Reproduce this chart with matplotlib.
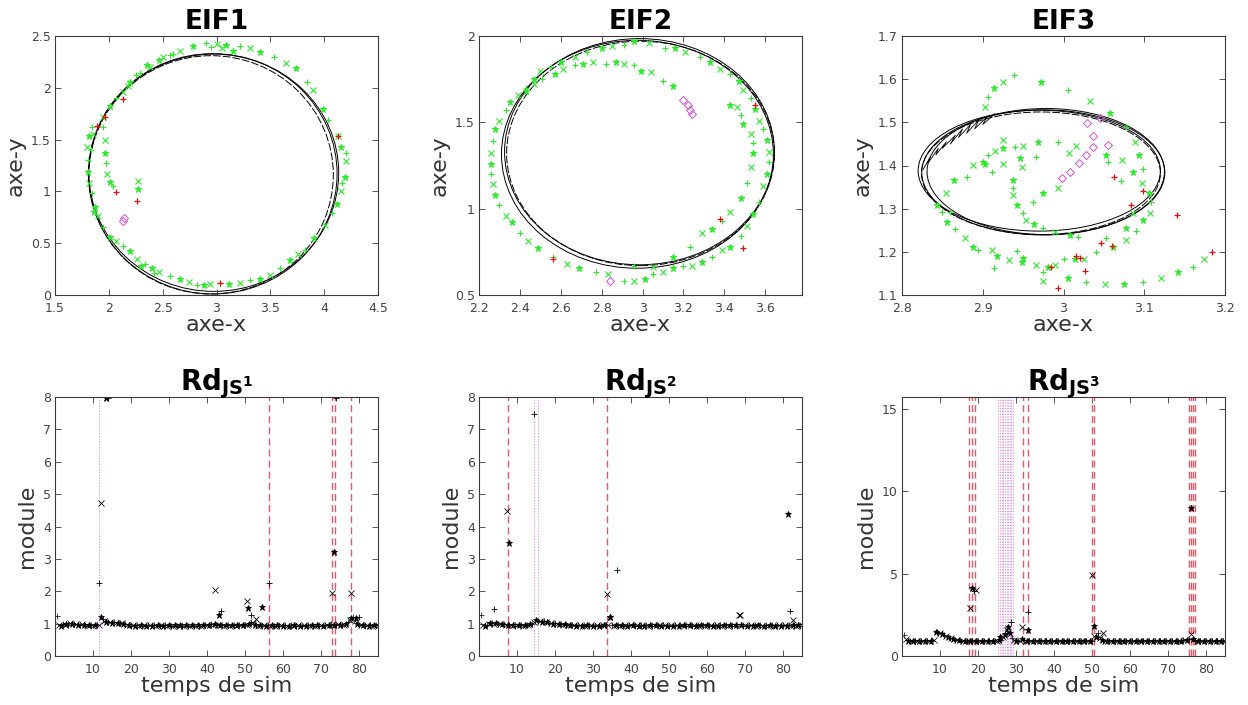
import numpy as np
import matplotlib
matplotlib.use("Agg")
import matplotlib.pyplot as plt
from matplotlib.patches import Ellipse

plt.rcParams['font.family'] = ['DejaVu Sans']

# ------------------------------------------------------------------ data
# EIF1 : reference loops (centre x, centre y, width, height)
eif1_loop_cx = [2.965, 2.950, 2.975]
eif1_loop_cy = [1.170, 1.160, 1.180]
eif1_loop_w = [2.310, 2.270, 2.320]
eif1_loop_h = [2.320, 2.300, 2.290]
eif1_green_x = [2.90, 3.00, 3.09, 3.22, 3.31, 3.40, 3.53, 3.65, 3.74, 3.84, 3.90, 3.99, 4.04, 4.13,
                4.16, 4.20, 4.20, 4.19, 4.17, 4.16, 4.12, 4.07, 4.01, 3.91, 3.82, 3.76, 3.68, 3.59,
                3.50, 3.40, 3.31, 3.22, 3.12, 3.03, 2.94, 2.88, 2.82, 2.74, 2.66, 2.57, 2.47, 2.40,
                2.34, 2.26, 2.20, 2.13, 2.07, 2.01, 1.95, 1.90, 1.87, 1.84, 1.82, 1.81, 1.81, 1.80,
                1.82, 1.84, 1.95, 2.01, 2.07, 2.13, 2.20, 2.29, 2.38, 2.47, 2.57, 2.66, 2.78,
                1.95, 1.96, 1.96, 1.97, 1.98, 2.01, 2.04, 2.27, 2.27,
                2.95, 3.05, 3.15, 2.60, 2.50, 2.35, 2.25, 2.18, 1.86, 1.83, 1.85, 2.30, 2.42]
eif1_green_y = [2.43, 2.42, 2.41, 2.40, 2.38, 2.35, 2.30, 2.24, 2.19, 2.06, 1.98, 1.80, 1.69, 1.53,
                1.43, 1.37, 1.29, 1.14, 1.08, 1.00, 0.88, 0.79, 0.68, 0.55, 0.43, 0.40, 0.34, 0.26,
                0.19, 0.15, 0.14, 0.12, 0.11, 0.12, 0.11, 0.10, 0.10, 0.13, 0.15, 0.18, 0.22, 0.26,
                0.30, 0.35, 0.42, 0.47, 0.52, 0.56, 0.66, 0.76, 0.85, 0.98, 1.08, 1.19, 1.30, 1.43,
                1.53, 1.62, 1.72, 1.82, 1.90, 1.96, 2.06, 2.14, 2.20, 2.27, 2.32, 2.36, 2.40,
                1.62, 1.50, 1.37, 1.27, 1.17, 1.09, 1.05, 1.10, 1.02,
                2.39, 2.38, 2.36, 2.33, 2.30, 2.22, 2.12, 2.02, 0.80, 1.40, 1.55, 0.28, 0.21]
eif1_red_x = [2.13, 1.96, 1.89, 4.13, 3.03, 2.26, 2.07]
eif1_red_y = [1.89, 1.72, 1.63, 1.53, 0.12, 0.91, 0.99]
eif1_mag_x = [2.13, 2.14]
eif1_mag_y = [0.71, 0.74]

# EIF2
eif2_loop_cx = [2.975, 2.990, 2.985]
eif2_loop_cy = [1.315, 1.320, 1.330]
eif2_loop_w = [1.330, 1.310, 1.320]
eif2_loop_h = [1.320, 1.300, 1.310]
eif2_green_x = [2.91, 2.96, 3.01, 3.05, 3.10, 3.15, 3.20, 3.24, 3.29, 3.34, 3.39, 3.43, 3.48, 3.51,
                3.54, 3.57, 3.59, 3.61, 3.62, 3.62, 3.61, 3.59, 3.57, 3.55, 3.53, 3.49, 3.47, 3.43,
                3.38, 3.33, 3.28, 3.21, 3.16, 3.11, 3.03, 2.96, 2.91, 2.85, 2.80, 2.73, 2.67, 2.60,
                2.55, 2.50, 2.47, 2.43, 2.39, 2.35, 2.33, 2.30, 2.28, 2.27, 2.26, 2.26, 2.26, 2.27,
                2.28, 2.30, 2.33, 2.36, 2.40, 2.44, 2.49, 2.56, 2.63, 2.69, 2.77, 2.83,
                3.15, 3.10, 3.04, 2.99, 2.96, 2.91, 2.87, 2.82, 2.76, 2.71, 2.67, 2.61, 2.57, 2.51,
                2.47, 2.43,
                2.96, 3.05, 3.15, 3.23, 3.29, 3.34, 3.39, 3.43, 3.48, 3.51, 3.53, 3.54, 3.54, 3.53,
                3.49, 3.48, 3.46, 3.43]
eif2_green_y = [0.58, 0.58, 0.59, 0.62, 0.635, 0.655, 0.67, 0.67, 0.69, 0.72, 0.76, 0.78, 0.84, 0.90,
                0.97, 1.04, 1.13, 1.20, 1.27, 1.33, 1.40, 1.46, 1.51, 1.58, 1.64, 1.69, 1.74, 1.78,
                1.81, 1.85, 1.88, 1.91, 1.93, 1.93, 1.96, 1.97, 1.95, 1.94, 1.93, 1.91, 1.88, 1.85,
                1.82, 1.80, 1.75, 1.70, 1.66, 1.62, 1.57, 1.51, 1.46, 1.39, 1.32, 1.26, 1.20, 1.14,
                1.08, 1.02, 0.96, 0.92, 0.86, 0.81, 0.77, 0.72, 0.68, 0.655, 0.635, 0.62,
                1.71, 1.74, 1.79, 1.80, 1.83, 1.84, 1.85, 1.84, 1.85, 1.84, 1.83, 1.81, 1.78, 1.75,
                1.72, 1.68,
                0.67, 0.66, 0.72, 0.78, 0.86, 0.88, 0.93, 0.98, 1.06, 1.15, 1.24, 1.32, 1.38, 1.43,
                1.49, 1.54, 1.59, 1.60]
eif2_red_x = [2.56, 3.49, 3.55, 3.38]
eif2_red_y = [0.71, 0.77, 1.60, 0.94]
eif2_mag_x = [3.20, 3.22, 3.23, 3.24, 2.84]
eif2_mag_y = [1.63, 1.60, 1.57, 1.55, 0.58]

# EIF3
eif3_loop_cx = [2.975, 2.972, 2.978, 2.970]
eif3_loop_cy = [1.384, 1.382, 1.386, 1.388]
eif3_loop_w = [0.301, 0.296, 0.294, 0.300]
eif3_loop_h = [0.290, 0.284, 0.292, 0.280]
eif3_scrib_x = [2.826, 2.835, 2.832, 2.845, 2.842, 2.855, 2.850, 2.866, 2.860, 2.875, 2.870, 2.885,
                2.880, 2.895, 2.890, 2.905, 2.900, 2.915]
eif3_scrib_y = [1.390, 1.420, 1.405, 1.440, 1.425, 1.455, 1.440, 1.470, 1.450, 1.485, 1.465, 1.495,
                1.475, 1.505, 1.485, 1.512, 1.495, 1.520]
eif3_green_x = [2.939, 2.925, 2.914, 2.907, 2.903, 2.972, 3.005, 3.033, 3.058, 3.077, 3.088, 3.094,
                3.098, 3.097, 3.106, 3.108, 3.107, 3.098, 3.090, 3.077, 3.061, 3.040, 3.026, 3.014,
                3.000, 2.989, 2.981, 2.975, 2.975, 3.005, 3.028, 3.051, 3.075, 3.099, 3.121, 3.142,
                3.160, 3.174, 2.856, 2.866, 2.878, 2.888, 2.894, 2.911, 2.918, 2.914, 2.933, 2.950,
                2.942, 2.966, 2.949, 2.859, 2.854, 2.865, 2.880, 2.888, 2.900, 2.906, 2.915, 2.925,
                2.940, 2.950, 2.968, 2.993, 3.016, 2.903, 2.911, 2.925, 2.946, 2.966, 2.948, 2.937,
                2.937, 2.937, 2.942, 2.950, 2.954, 2.964, 2.975, 2.990, 3.008, 3.018, 2.993, 2.975,
                2.962, 3.007, 3.053, 3.055, 3.073, 3.086, 3.071, 3.086, 3.077, 3.053, 2.925, 2.843,
                2.849]
eif3_green_y = [1.610, 1.594, 1.579, 1.558, 1.535, 1.594, 1.575, 1.550, 1.521, 1.490, 1.455, 1.424,
                1.393, 1.359, 1.336, 1.316, 1.291, 1.274, 1.249, 1.227, 1.212, 1.199, 1.183, 1.183,
                1.183, 1.170, 1.166, 1.154, 1.133, 1.139, 1.131, 1.126, 1.126, 1.130, 1.139, 1.153,
                1.166, 1.183, 1.270, 1.254, 1.231, 1.212, 1.204, 1.204, 1.191, 1.163, 1.181, 1.185,
                1.203, 1.170, 1.177, 1.293, 1.336, 1.366, 1.374, 1.401, 1.409, 1.424, 1.434, 1.440,
                1.444, 1.445, 1.454, 1.454, 1.445, 1.404, 1.386, 1.403, 1.417, 1.420, 1.397, 1.366,
                1.347, 1.332, 1.309, 1.291, 1.274, 1.265, 1.255, 1.246, 1.239, 1.235, 1.347, 1.336,
                1.316, 1.428, 1.424, 1.409, 1.413, 1.386, 1.363, 1.289, 1.255, 1.231, 1.459, 1.308,
                1.293]
eif3_red_x = [3.063, 3.099, 3.084, 3.141, 3.184, 3.046, 3.060, 3.020, 3.016, 2.984, 3.027, 2.993]
eif3_red_y = [1.374, 1.342, 1.308, 1.286, 1.200, 1.221, 1.213, 1.185, 1.190, 1.166, 1.156, 1.116]
eif3_mag_x = [2.998, 3.008, 3.019, 3.028, 3.037, 3.036, 3.029, 3.045, 3.055]
eif3_mag_y = [1.370, 1.386, 1.405, 1.424, 1.444, 1.468, 1.498, 1.509, 1.447]

# Rd_JS : baseline module every 0.5 time unit (t = 0.5 ... 85)
time = np.arange(1, 171) * 0.5
rd1_base = [1.25, 0.97, 0.93, 0.98, 0.96, 1.00, 0.97, 1.01, 0.98, 1.00,
            0.99, 0.97, 0.95, 0.98, 0.96, 0.94, 0.97, 0.95, 0.96, 0.94,
            0.97, 0.95, 0.97, 1.21, 1.15, 1.08, 1.05, 1.04, 1.06, 1.03,
            1.04, 1.02, 1.03, 1.01, 1.02, 1.00, 0.98, 0.97, 0.95, 0.94,
            0.96, 0.93, 0.95, 0.94, 0.96, 0.93, 0.95, 0.94, 0.96, 0.95,
            0.93, 0.95, 0.94, 0.96, 0.94, 0.95, 0.93, 0.95, 0.94, 0.96,
            0.94, 0.93, 0.95, 0.94, 0.93, 0.95, 0.94, 0.93, 0.95, 0.94,
            0.93, 0.95, 0.94, 0.93, 0.95, 0.94, 0.93, 0.96, 0.95, 0.97,
            0.96, 0.98, 0.97, 1.00, 0.97, 0.96, 0.95, 0.96, 0.94, 0.95,
            0.96, 0.94, 0.95, 0.96, 0.94, 0.95, 0.96, 0.97, 0.95, 0.96,
            0.97, 0.98, 1.05, 1.02, 0.95, 0.96, 0.94, 0.95, 0.93, 0.95,
            0.94, 0.96, 0.93, 0.95, 0.94, 0.93, 0.95, 0.94, 0.96, 0.93,
            0.95, 0.94, 0.93, 0.95, 0.94, 0.96, 0.93, 0.95, 0.94, 0.93,
            0.95, 0.94, 0.96, 0.93, 0.95, 0.94, 0.93, 0.95, 0.94, 0.96,
            0.94, 0.95, 0.97, 0.96, 0.98, 0.96, 0.97, 0.95, 0.98, 0.96,
            0.97, 0.95, 0.98, 1.05, 1.12, 1.17, 1.20, 1.08, 0.98, 0.96,
            0.95, 0.96, 0.94, 0.95, 0.93, 0.95, 0.94, 0.96, 0.95, 0.94]
rd2_base = [1.27, 0.97, 0.93, 0.96, 1.00, 1.01, 1.02, 1.00, 1.01, 0.99,
            1.00, 0.98, 0.99, 0.97, 0.96, 0.97, 0.95, 0.96, 0.94, 0.96,
            0.95, 0.97, 0.94, 0.96, 0.95, 0.97, 0.98, 1.00, 1.05, 1.10,
            1.09, 1.08, 1.06, 1.07, 1.05, 1.04, 1.02, 1.03, 1.00, 1.01,
            0.99, 1.00, 0.98, 0.97, 0.98, 0.96, 0.97, 0.95, 0.96, 0.95,
            0.94, 0.96, 0.95, 0.93, 0.95, 0.94, 0.96, 0.93, 0.95, 0.94,
            0.93, 0.95, 0.94, 0.93, 0.96, 0.97, 0.95, 0.97, 1.21, 0.96,
            0.94, 0.95, 0.96, 0.94, 0.95, 0.93, 0.95, 0.94, 0.96, 0.95,
            0.96, 0.94, 0.95, 0.93, 0.95, 0.96, 0.94, 0.95, 0.93, 0.95,
            0.94, 0.96, 0.95, 0.93, 0.95, 0.94, 0.96, 0.95, 0.94, 0.93,
            0.95, 0.94, 0.96, 0.95, 0.94, 0.93, 0.95, 0.96, 0.94, 0.95,
            0.96, 0.94, 0.95, 0.93, 0.95, 0.94, 0.96, 0.95, 0.94, 0.95,
            0.93, 0.95, 0.94, 0.96, 0.95, 0.93, 0.95, 0.94, 0.96, 0.95,
            0.94, 0.95, 0.93, 0.96, 0.95, 0.94, 1.26, 0.95, 0.93, 0.95,
            0.94, 0.96, 0.95, 0.93, 0.95, 0.94, 0.96, 0.95, 0.94, 0.93,
            0.95, 0.94, 0.96, 0.95, 0.94, 0.93, 0.95, 0.96, 0.94, 0.95,
            0.96, 0.94, 0.95, 0.93, 0.95, 0.96, 0.94, 0.95, 0.93, 0.95]
rd3_base = [1.27, 1.05, 0.92, 0.90, 0.91, 0.89, 0.92, 0.90, 0.91, 0.90,
            0.91, 0.89, 0.90, 0.92, 0.90, 0.91, 1.00, 1.48, 1.42, 1.38,
            1.32, 1.27, 1.22, 1.17, 1.12, 1.07, 1.02, 0.98, 0.96, 0.94,
            0.92, 0.91, 0.90, 0.92, 0.91, 0.90, 0.92, 0.91, 0.90, 0.91,
            0.92, 0.90, 0.91, 0.92, 0.90, 0.91, 0.90, 0.92, 0.91, 0.93,
            0.95, 1.00, 1.17, 1.28, 1.38, 1.45, 1.40, 1.10, 0.96, 0.92,
            0.91, 0.93, 1.05, 0.95, 0.92, 0.91, 0.90, 0.92, 0.91, 0.90,
            0.92, 0.91, 0.90, 0.92, 0.91, 0.90, 0.92, 0.91, 0.90, 0.91,
            0.92, 0.90, 0.91, 0.92, 0.90, 0.91, 0.90, 0.92, 0.91, 0.90,
            0.92, 0.91, 0.90, 0.91, 0.92, 0.90, 0.91, 0.92, 0.90, 0.91,
            1.20, 1.17, 1.38, 1.10, 0.95, 0.92, 0.91, 0.90, 0.92, 0.91,
            0.90, 0.92, 0.91, 0.90, 0.91, 0.92, 0.90, 0.91, 0.92, 0.90,
            0.91, 0.90, 0.92, 0.91, 0.90, 0.92, 0.91, 0.90, 0.91, 0.92,
            0.90, 0.91, 0.92, 0.90, 0.91, 0.90, 0.92, 0.91, 0.90, 0.92,
            0.91, 0.90, 0.91, 0.92, 0.90, 0.91, 0.92, 0.95, 0.98, 1.00,
            1.02, 1.33, 1.05, 0.92, 0.91, 0.90, 0.92, 0.91, 0.90, 0.91,
            0.92, 0.90, 0.91, 0.92, 0.90, 0.91, 0.90, 0.92, 0.91, 0.90]
# isolated peaks (time, module)
rd1_peak_t = [11.7, 12.0, 13.5, 14.0, 42.2, 43.1, 43.8, 50.6, 50.8, 51.5, 52.8, 54.5, 56.3, 73.0, 73.4, 73.9, 78.0, 79.2, 79.9]
rd1_peak_v = [2.24, 4.73, 7.98, 7.98, 2.04, 1.27, 1.38, 1.70, 1.47, 1.28, 1.15, 1.50, 2.26, 1.94, 3.22, 7.98, 1.94, 1.17, 1.20]
rd2_peak_t = [4.0, 7.3, 7.8, 14.6, 33.6, 34.6, 36.4, 68.6, 81.2, 81.8, 82.7]
rd2_peak_v = [1.44, 4.49, 3.48, 7.47, 1.91, 1.21, 2.67, 1.26, 4.38, 1.39, 1.10]
rd3_peak_t = [9.1, 17.8, 18.3, 19.0, 19.4, 25.7, 27.0, 27.5, 27.9, 28.8, 31.7, 33.2, 33.2, 50.0, 50.4, 51.5, 52.8, 76.0]
rd3_peak_v = [1.48, 2.89, 4.11, 3.91, 4.00, 1.17, 1.38, 1.58, 1.74, 2.08, 1.78, 1.58, 2.68, 4.92, 1.82, 1.17, 1.38, 8.97]
# detection instants
rd1_red_lines = [56.4, 73.0, 73.6, 78.0]
rd1_mag_lines = [11.6]
rd2_red_lines = [7.5, 33.8]
rd2_mag_lines = [14.6, 15.5]
rd3_red_lines = [17.7, 18.3, 19.2, 31.8, 33.2, 50.0, 50.4, 75.6, 76.1, 76.6, 77.0]
rd3_mag_lines = [25.3, 25.7, 26.2, 26.6, 27.0, 27.5, 27.9, 28.4, 28.8, 29.2]

# ------------------------------------------------------------------ style
GREEN = '#2ee82e'
RED = '#e01010'
MAG = '#d050d0'
TXT = '#333333'
MK = ['+', 'x', '*']


def style(ax):
    for s in ax.spines.values():
        s.set_color('#3a3a3a')
        s.set_linewidth(0.8)
    ax.tick_params(direction='in', top=True, right=True, length=4, width=0.6,
                   labelsize=9, colors='#3a3a3a', labelcolor='#444444', pad=3)
    ax.tick_params(axis='x', pad=5)


def scatter_cycle(ax, xs, ys, color, ms, mew):
    xs = np.asarray(xs)
    ys = np.asarray(ys)
    for k, m in enumerate(MK):
        ax.plot(xs[k::3], ys[k::3], ls='none', marker=m, color=color, ms=ms, mew=mew)


fig = plt.figure(figsize=(12.48, 7.05), dpi=100)
W = 323 / 1248
H = 259 / 705
lefts = [55 / 1248, 479 / 1248, 902 / 1248]
top_b = 1 - 295 / 705
bot_b = 1 - 656 / 705

top_sets = [
    ('EIF1', eif1_loop_cx, eif1_loop_cy, eif1_loop_w, eif1_loop_h, eif1_green_x, eif1_green_y,
     eif1_red_x, eif1_red_y, eif1_mag_x, eif1_mag_y, (1.5, 4.5), (0, 2.5),
     [1.5, 2, 2.5, 3, 3.5, 4, 4.5], [0, 0.5, 1, 1.5, 2, 2.5]),
    ('EIF2', eif2_loop_cx, eif2_loop_cy, eif2_loop_w, eif2_loop_h, eif2_green_x, eif2_green_y,
     eif2_red_x, eif2_red_y, eif2_mag_x, eif2_mag_y, (2.2, 3.78), (0.5, 2.0),
     [2.2, 2.4, 2.6, 2.8, 3, 3.2, 3.4, 3.6], [0.5, 1, 1.5, 2]),
    ('EIF3', eif3_loop_cx, eif3_loop_cy, eif3_loop_w, eif3_loop_h, eif3_green_x, eif3_green_y,
     eif3_red_x, eif3_red_y, eif3_mag_x, eif3_mag_y, (2.8, 3.2), (1.1, 1.7),
     [2.8, 2.9, 3, 3.1, 3.2], [1.1, 1.2, 1.3, 1.4, 1.5, 1.6, 1.7]),
]

for i, (ttl, cx, cy, w, h, gx, gy, rx, ry, mx, my, xl, yl, xt, yt) in enumerate(top_sets):
    ax = fig.add_axes([lefts[i], top_b, W, H])
    for j in range(len(cx)):
        ax.add_patch(Ellipse((cx[j], cy[j]), w[j], h[j], fill=False, ec='black',
                             lw=0.7, ls='-' if j != 1 else (0, (8, 2))))
    if i == 2:
        ax.plot(eif3_scrib_x, eif3_scrib_y, color='black', lw=0.6)
    scatter_cycle(ax, gx, gy, GREEN, 5, 0.8)
    ax.plot(rx, ry, ls='none', marker='+', color=RED, ms=5, mew=0.9)
    ax.plot(mx, my, ls='none', marker='D', mfc='none', mec=MAG, ms=4.5, mew=0.7)
    ax.set_xlim(*xl)
    ax.set_ylim(*yl)
    ax.set_xticks(xt)
    ax.set_yticks(yt)
    ax.set_xticklabels([f'{v:g}' for v in xt])
    ax.set_yticklabels([f'{v:g}' for v in yt])
    style(ax)
    ax.set_title(ttl, fontsize=19, fontweight='bold', pad=5)
    ax.set_xlabel('axe-x', fontsize=16, color=TXT, labelpad=0)
    ax.set_ylabel('axe-y', fontsize=16, color=TXT, labelpad=4)

bot_sets = [
    (r'$\mathbf{Rd_{JS^1}}$', rd1_base, rd1_peak_t, rd1_peak_v, rd1_red_lines, rd1_mag_lines,
     (0, 8), list(range(0, 9))),
    (r'$\mathbf{Rd_{JS^2}}$', rd2_base, rd2_peak_t, rd2_peak_v, rd2_red_lines, rd2_mag_lines,
     (0, 8), list(range(0, 9))),
    (r'$\mathbf{Rd_{JS^3}}$', rd3_base, rd3_peak_t, rd3_peak_v, rd3_red_lines, rd3_mag_lines,
     (0, 15.7), [0, 5, 10, 15]),
]

for i, (ttl, base, pt, pv, rl, ml, yl, yt) in enumerate(bot_sets):
    ax = fig.add_axes([lefts[i], bot_b, W, H])
    for x in ml:
        ax.axvline(x, color='#e090e8', lw=0.8, ls=(0, (1, 1.5)))
    for x in rl:
        ax.axvline(x, color='#e05a6a', lw=1.0, ls=(0, (5, 3)))
    scatter_cycle(ax, time, base, 'black', 4.5, 0.5)
    scatter_cycle(ax, pt, pv, 'black', 4.5, 0.6)
    ax.set_xlim(0, 85)
    ax.set_ylim(*yl)
    ax.set_xticks(range(10, 81, 10))
    ax.set_yticks(yt)
    style(ax)
    ax.set_title(ttl, fontsize=20, pad=5)
    ax.set_xlabel('temps de sim', fontsize=16, color=TXT, labelpad=0)
    ax.set_ylabel('module', fontsize=16, color=TXT, labelpad=4)

fig.savefig('out.png', dpi=100)
